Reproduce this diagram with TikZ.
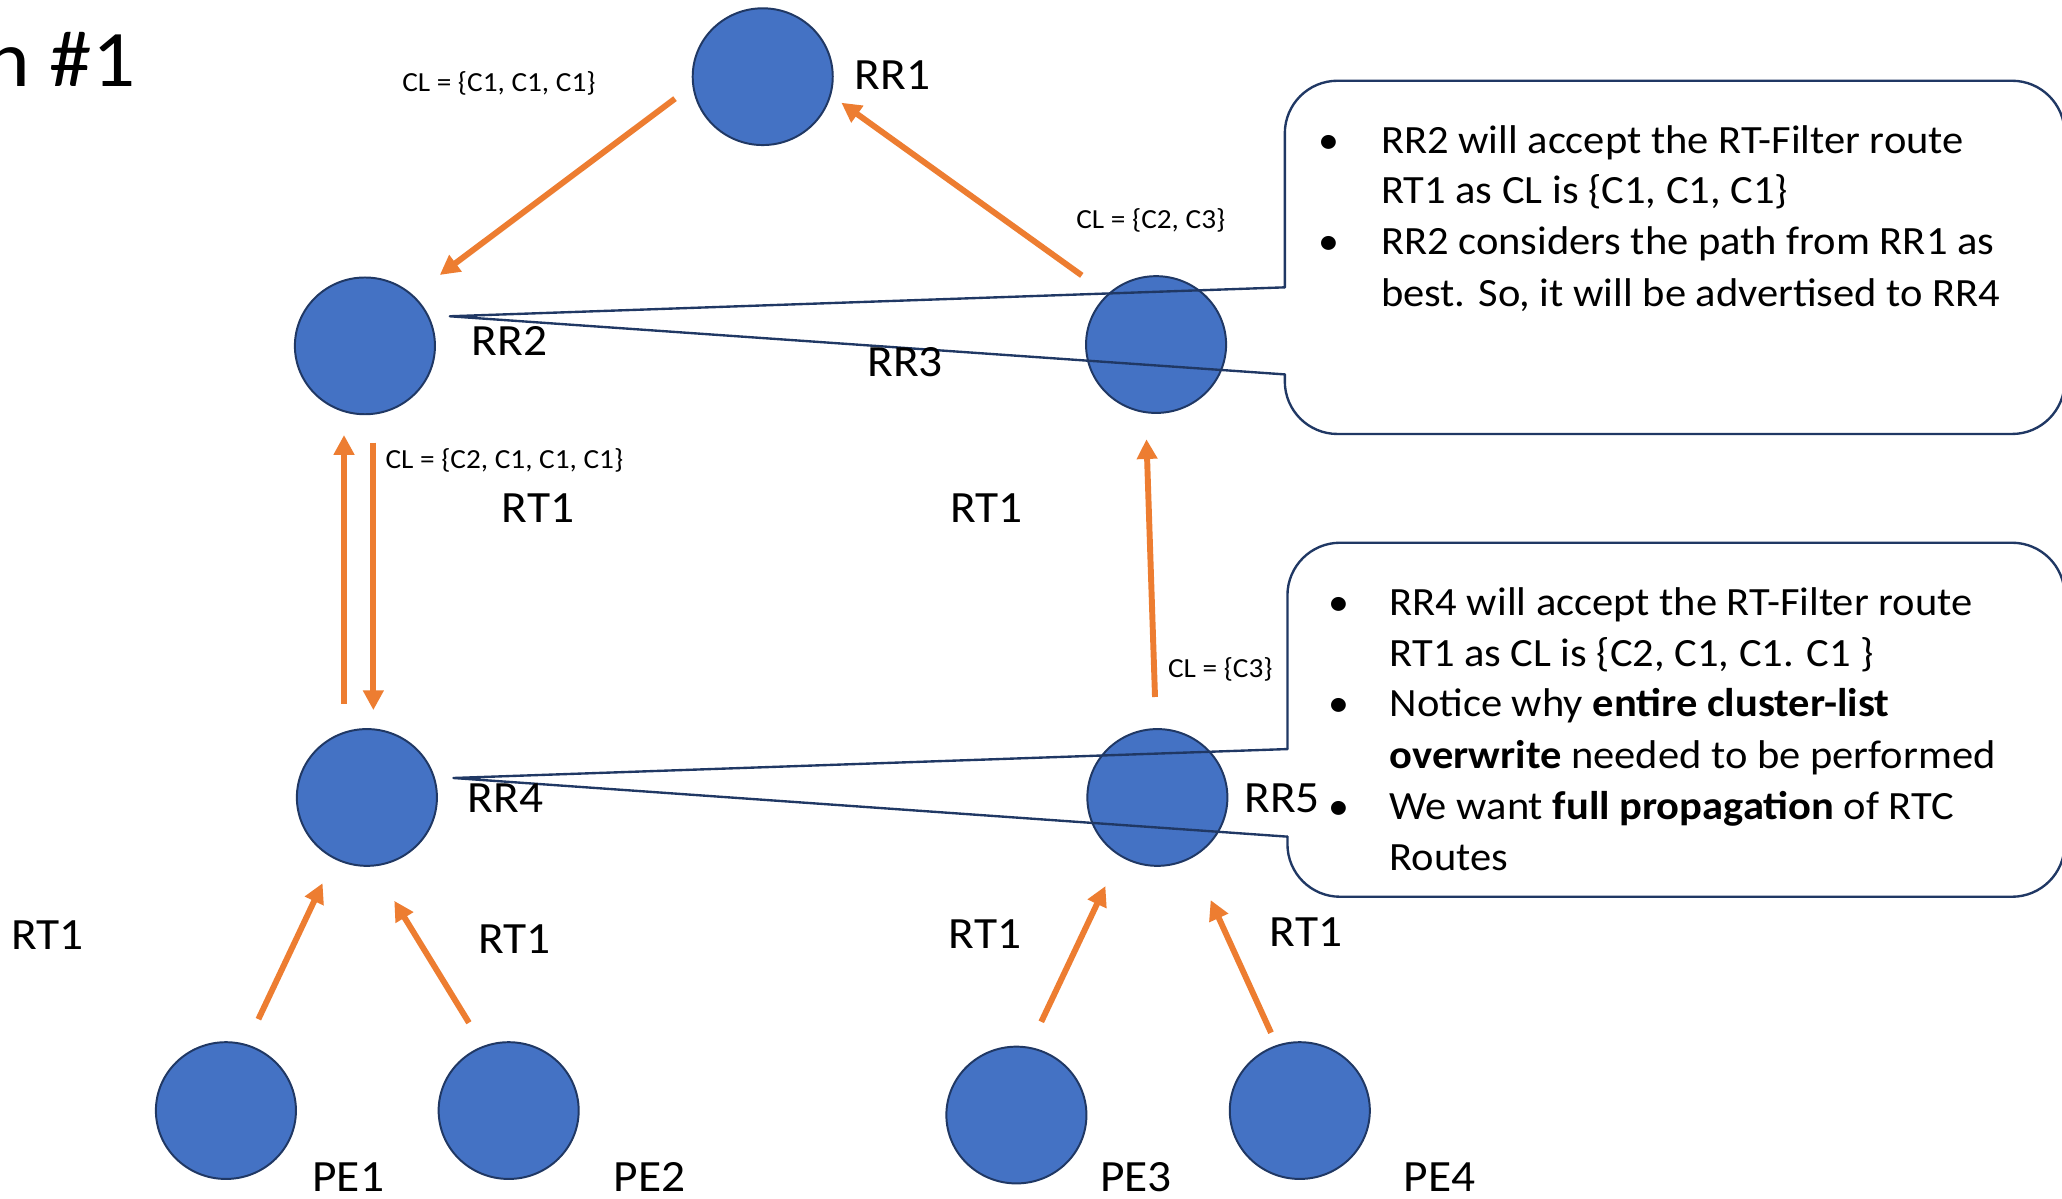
\documentclass[tikz,border=0pt]{standalone}
\usepackage{fontspec}
\setmainfont{Carlito}[FakeStretch=1.06]
\usetikzlibrary{arrows.meta,calc,shapes.geometric}
\definecolor{nodeblue}{HTML}{4472C4}
\definecolor{navy}{HTML}{203864}
\definecolor{flow}{HTML}{ED7D31}

\tikzset{
  router/.style={ellipse, draw=navy, line width=1.5pt, fill=nodeblue,
    minimum width=106.5pt, minimum height=104pt, inner sep=0pt},
  lbl/.style={anchor=base west, inner sep=0pt, font=\fontsize{34}{40}\selectfont},
  cltext/.style={anchor=base west, inner sep=0pt, font=\fontsize{21}{25}\selectfont},
  notetext/.style={anchor=base west, inner sep=0pt, font=\fontsize{30.5}{36}\selectfont},
  bulletmark/.style={anchor=base, inner sep=0pt, font=\fontsize{30}{36}\selectfont},
  advert/.style={draw=flow, line width=4.5pt, -{Triangle[length=15pt,width=15pt]}},
  calloutline/.style={draw=navy, line width=1.8pt, line join=round, line cap=round},
}

\begin{document}
\begin{tikzpicture}[x=1pt,y=-1pt]
\useasboundingbox (0,0) rectangle (1568,911);
\clip (0,0) rectangle (1568,911);
\fill[white] (0,0) rectangle (1568,911);

% heading, partly cut by the left margin
\node[font=\fontsize{61}{68}\selectfont, anchor=base east, inner sep=0pt] (title) at (103,66) {n \#1};

% route reflectors and PEs
\node[router] (rr1) at (580,58.3) {};
\node[router] (rr2) at (277.5,263) {};
\node[router] (rr3) at (879.1,262) {};
\node[router] (rr4) at (279,606.4) {};
\node[router] (rr5) at (880.1,606.4) {};
\node[router] (pe1) at (171.8,844.5) {};
\node[router] (pe2) at (386.8,844.5) {};
\node[router] (pe3) at (772.9,847.9) {};
\node[router] (pe4) at (988.4,844.5) {};

% RT-Filter advertisements
\draw[advert] ($(rr1.center)+(-66.7,16.7)$) -- ($(rr2.center)+(56.9,-53.9)$);
\draw[advert] ($(rr3.center)+(-56.5,-52.6)$) -- ($(rr1.center)+(59.8,19.8)$);
\draw[advert] ($(rr4.center)+(-17.4,-71.4)$) -- ($(rr2.center)+(-15.9,67.8)$);
\draw[advert] ($(rr2.center)+(6.4,73.6)$) -- ($(rr4.center)+(4.9,-66.4)$);
\draw[advert] ($(rr5.center)+(-1.8,-76.4)$) -- ($(rr3.center)+(-7.3,72)$);
\draw[advert] ($(pe1.center)+(24.7,-69.5)$) -- ($(rr4.center)+(-33.7,65.2)$);
\draw[advert] ($(pe2.center)+(-30.2,-66.8)$) -- ($(rr4.center)+(20.8,78.6)$);
\draw[advert] ($(pe3.center)+(18.9,-70.9)$) -- ($(rr5.center)+(-39.5,67.4)$);
\draw[advert] ($(pe4.center)+(-21.9,-59.2)$) -- ($(rr5.center)+(40.5,78)$);

% callout boxes with their pointers
\coordinate (tipA) at (342,240.5);
\coordinate (tipB) at (344.8,591.6);
\draw[calloutline, rounded corners=40pt] (977,284.7) -- (977,330) -- (1570,330)
  -- (1570,61.4) -- (977,61.4) -- (977,218.5);
\draw[calloutline] (977,218.5) -- (tipA) -- (977,284.7);
\draw[calloutline, rounded corners=40pt] (979,636.2) -- (979,681.9) -- (1570,681.9)
  -- (1570,412.7) -- (979,412.7) -- (979,569.6);
\draw[calloutline] (979,569.6) -- (tipB) -- (979,636.2);

% node names
\node[lbl] (lrr1) at (649.7,68) {RR1};
\node[lbl] (lrr2) at (358.4,270) {RR2};
\node[lbl] (lrr3) at (659.4,286) {RR3};
\node[lbl] (lrr4) at (355.4,618) {RR4};
\node[lbl] (lrr5) at (946,618) {RR5};
\node[lbl] (lpe1) at (237.4,906) {PE1};
\node[lbl] (lpe2) at (466.4,906) {PE2};
\node[lbl] (lpe3) at (836.4,906) {PE3};
\node[lbl] (lpe4) at (1067.4,906) {PE4};

% route-target labels
\node[lbl] (rta) at (8.4,722) {RT1};
\node[lbl] (rtb) at (363.4,725) {RT1};
\node[lbl] (rtc) at (721.4,721) {RT1};
\node[lbl] (rtd) at (965.4,720) {RT1};
\node[lbl] (rte) at (381.4,397) {RT1};
\node[lbl] (rtf) at (722.4,397) {RT1};

% cluster lists
\node[cltext] (cla) at (305.7,69.7) {CL = \{C1, C1, C1\}};
\node[cltext] (clb) at (818.3,173.6) {CL = \{C2, C3\}};
\node[cltext] (clc) at (293,356.1) {CL = \{C2, C1, C1, C1\}};
\node[cltext] (cld) at (888,515.5) {CL = \{C3\}};

% first note
\node[bulletmark] (ba1) at (1010.4,116.6) {•};
\node[bulletmark] (ba2) at (1010.4,193.9) {•};
\node[notetext] (na1) at (1050,116.6) {RR2 will accept the RT-Filter route};
\node[notetext] (na2) at (1050,155.1) {RT1 as CL is \{C1, C1, C1\}};
\node[notetext] (na3) at (1050,193.9) {RR2 considers the path from RR1 as};
\node[notetext] (na4) at (1050,232.7) {best. So, it will be advertised to RR4};

% second note
\node[bulletmark] (bb1) at (1018.3,467.7) {•};
\node[bulletmark] (bb2) at (1018.3,545) {•};
\node[bulletmark] (bb3) at (1018.3,622.8) {•};
\node[notetext] (nb1) at (1056.5,467.7) {RR4 will accept the RT-Filter route};
\node[notetext] (nb2) at (1056.5,506.5) {RT1 as CL is \{C2, C1, C1. C1 \}};
\node[notetext] (nb3) at (1056.5,545) {Notice why \textbf{entire cluster-list}};
\node[notetext] (nb4) at (1056.5,584.3) {\textbf{overwrite} needed to be performed};
\node[notetext] (nb5) at (1056.5,622.8) {We want \textbf{full propagation} of RTC};
\node[notetext] (nb6) at (1056.5,661.6) {Routes};
\end{tikzpicture}
\end{document}
